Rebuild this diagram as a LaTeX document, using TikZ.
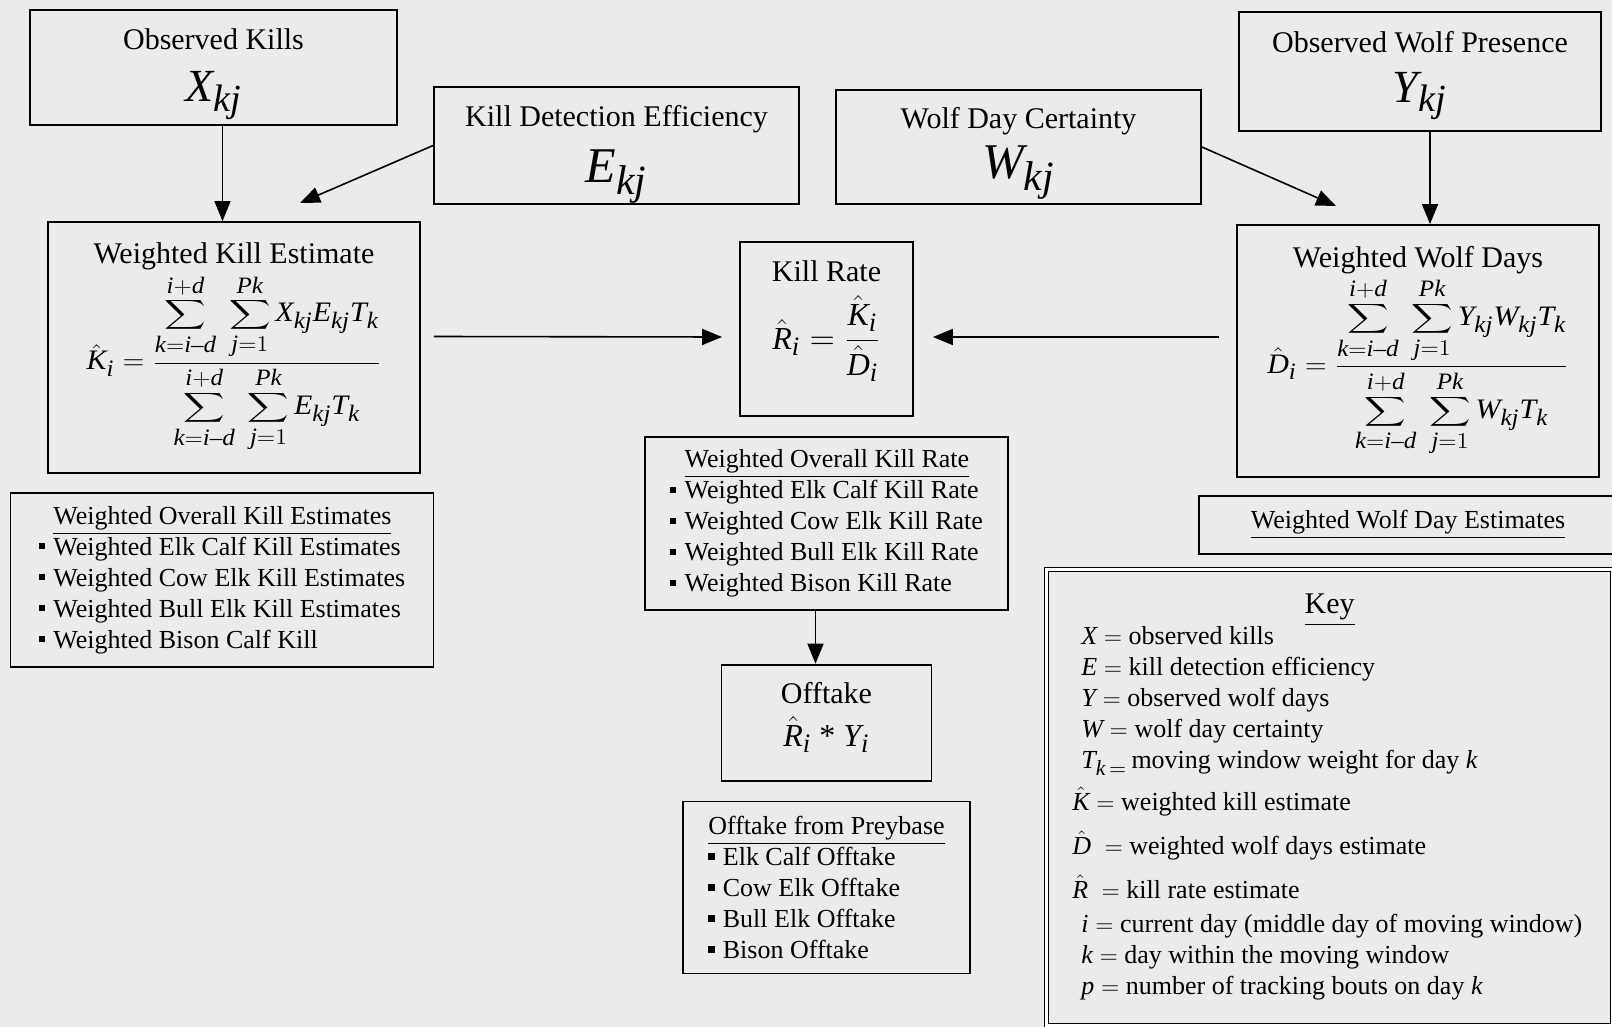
\documentclass[tikz,border=0pt]{standalone}
\usepackage{exscale}
\usepackage{graphicx}
\usepackage{fontspec}
\setmainfont{Liberation Serif}
\usepackage[italic]{mathastext}
\usepackage{tikz}
\usetikzlibrary{positioning,arrows.meta}
\definecolor{paper}{RGB}{235,235,235}
\newcommand{\sqb}{\rule[0.22em]{0.24em}{0.24em}\hspace{0.32em}}
\newcommand{\sqind}{\hspace*{0.56em}}
\newcommand{\bigsym}[1]{{\fontsize{23}{24}\selectfont$#1$}}
\newcommand{\flatsum}{\mathop{\vcenter{\hbox{\scalebox{1}[0.76]{$\displaystyle\sum$}}}}\limits}
\newcommand{\wsum}[2]{\displaystyle\flatsum_{k=i-d}^{i+d}\;\flatsum_{j=1}^{Pk}#1#2T_k}
\newcommand{\uppad}[1]{\rule{0pt}{#1}}
\newcommand{\dnpad}[1]{\rule[-#1]{0pt}{#1}}
\newcommand{\squash}[1]{\scalebox{1}[0.94]{#1}}

\begin{document}
\begin{tikzpicture}[x=0.5pt, y=-0.5pt,
    >=Triangle,
    node distance=9pt,
    box/.style={
      draw, line width=0.9pt, align=center, inner xsep=2pt, inner ysep=0pt,
      font=\fontsize{15}{18}\selectfont
    },
    lst/.style={
      draw, line width=0.9pt, align=left, inner sep=3pt,
      font=\fontsize{13}{15.5}\selectfont
    },
    keybox/.style={draw, line width=0.6pt, double, double distance=1.4pt},
    arr/.style={-{Triangle[length=10pt,width=8pt]}, line width=0.8pt}
  ]

  % page
  \fill[paper] (0,0) rectangle (1612,1027);
  \useasboundingbox (0,0) rectangle (1612,1027);

  % ===== Top row: inputs =====
  \node[box, minimum width=183.5pt, minimum height=57.5pt] (obs) at (213.5,67.5)
    {\uppad{17pt}Observed Kills\\[8pt]\bigsym{X_{kj}}};
  \node[box, minimum width=182.5pt, minimum height=58.5pt] (kde) at (616.5,145.5)
    {\uppad{19.5pt}Kill Detection Efficiency\\[7.5pt]{\fontsize{25}{26}\selectfont$E_{kj}$}};
  \node[box, minimum width=182.5pt, minimum height=57pt] (wdc) at (1018.5,147)
    {\uppad{17pt}Wolf Day Certainty\\[4.5pt]{\fontsize{25}{26}\selectfont$W_{kj}$}};
  \node[box, minimum width=181pt, minimum height=59.5pt] (owp) at (1420,71.5)
    {\uppad{14.5pt}Observed Wolf Presence\\[7pt]\bigsym{Y_{kj}}};

  % ===== Middle row: estimates =====
  \node[box, minimum width=186pt, minimum height=125.5pt] (wke) at (234,347.5)
    {Weighted Kill Estimate\\[1pt]
     \squash{$\displaystyle \hat{K}_i=\frac{\wsum{X_{kj}}{E_{kj}}}{\wsum{}{E_{kj}}}$}};
  \node[box, minimum width=86.5pt, minimum height=87pt] (kr) at (826.5,329)
    {Kill Rate\\[6pt]
     {\fontsize{16}{18}\selectfont$\displaystyle \hat{R}_i=\frac{\hat{K}_i}{\hat{D}_i}$}\dnpad{24pt}};
  \node[box, minimum width=181pt, minimum height=126pt] (wwd) at (1418,351)
    {Weighted Wolf Days\\[1pt]
     \squash{$\displaystyle \hat{D}_i=\frac{\wsum{Y_{kj}}{W_{kj}}}{\wsum{}{W_{kj}}}$}};

  \draw[arr] ([xshift=4.5pt]obs.south) -- ([xshift=4.5pt]obs.south |- wke.north);
  \coordinate (kdetip) at (300,203);
  \draw[arr] (kde.west) -- (kdetip);
  \coordinate (wdctip) at (1336,206);
  \draw[arr] (wdc.east) -- (wdctip);
  \draw[arr] ([xshift=5pt]owp.south) -- ([xshift=5pt]owp.south |- wwd.north);
  \draw[arr] ([xshift=6.5pt,yshift=5.5pt]wke.east) -- ([xshift=-8.5pt,yshift=-4pt]kr.west);
  \draw[arr] ([xshift=-8.5pt,yshift=7pt]wwd.west) -- ([xshift=9.5pt,yshift=-4pt]kr.east);

  % ===== Lists under the estimates =====
  \node[lst, minimum width=211.5pt, minimum height=87pt, below=9pt of wke, xshift=-6pt] (lke)
    {\sqind\underline{Weighted Overall Kill Estimates}\\
     \sqb Weighted Elk Calf Kill Estimates\\
     \sqb Weighted Cow Elk Kill Estimates\\
     \sqb Weighted Bull Elk Kill Estimates\\
     \sqb Weighted Bison Calf Kill};
  \node[lst, minimum width=181.5pt, minimum height=86.5pt, below=9.5pt of kr] (lkr)
    {\sqind\underline{Weighted Overall Kill Rate}\\
     \sqb Weighted Elk Calf Kill Rate\\
     \sqb Weighted Cow Elk Kill Rate\\
     \sqb Weighted Bull Elk Kill Rate\\
     \sqb Weighted Bison Kill Rate};
  \node[lst, align=center, minimum width=209pt, minimum height=29pt, below=8.5pt of wwd, xshift=-5pt] (lwd)
    {\underline{Weighted Wolf Day Estimates}};

  % ===== Offtake =====
  \node[box, minimum width=105pt, minimum height=58pt, below=26.5pt of lkr] (off)
    {Offtake\\[3.5pt]{\fontsize{16}{18}\selectfont$\hat{R}_i$ * $Y_i$}\dnpad{8pt}};
  \draw[arr] ([xshift=-5.5pt]lkr.south) -- ([xshift=-5.5pt]lkr.south |- off.north);
  \node[lst, minimum width=143.5pt, minimum height=86pt, below=9.5pt of off] (lof)
    {\underline{Offtake from Preybase}\\
     \sqb Elk Calf Offtake\\
     \sqb Cow Elk Offtake\\
     \sqb Bull Elk Offtake\\
     \sqb Bison Offtake};

  % ===== Key =====
  \node[keybox, anchor=north west, minimum width=283pt, minimum height=228pt] (key) at (1046,569) {};
  \node[font=\fontsize{15}{18}\selectfont, below=9pt of key.north] (keyttl) {\underline{Key}};
  \node[anchor=north west, inner sep=0pt, align=left, font=\fontsize{13}{15.5}\selectfont] (keytxt) at (1072,626)
    {\hspace*{4.5pt}$X=$ observed kills\\
     \hspace*{4.5pt}$E=$ kill detection efficiency\\
     \hspace*{4.5pt}$Y=$ observed wolf days\\
     \hspace*{4.5pt}$W=$ wolf day certainty\\
     \hspace*{4.5pt}$T_{k\,=}$\,moving window weight for day $k$\\[5.5pt]
     $\hat{K}=$ weighted kill estimate\\[6.5pt]
     $\hat{D}\;=$ weighted wolf days estimate\\[6.5pt]
     $\hat{R}\;=$ kill rate estimate\\[1.5pt]
     \hspace*{4.5pt}$i=$ current day (middle day of moving window)\\
     \hspace*{4.5pt}$k=$ day within the moving window\\
     \hspace*{4.5pt}$p=$ number of tracking bouts on day $k$};

\end{tikzpicture}
\end{document}
